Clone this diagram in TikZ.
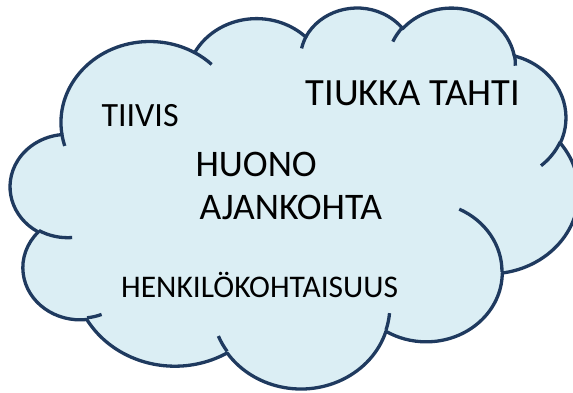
\documentclass[tikz,border=0pt]{standalone}
\usepackage{fontspec}
\setmainfont{Carlito}
\definecolor{cloudfill}{HTML}{DBEEF4}
\definecolor{cloudline}{HTML}{1F3A5F}
% horizontal / vertical scale of the cloud (pt per 1000 shape units)
\newcommand\csx{13.148}
\newcommand\csy{8.816}
\tikzset{
  % elliptical arc given by radii (thousands of units), start angle and sweep,
  % both as true (visual) angles measured with y pointing down
  cloud arc/.style n args={4}{
    start angle={-atan2(#1*sin(#3),#2*cos(#3))},
    delta angle={-mod(atan2(#1*sin(#3+#4),#2*cos(#3+#4))-atan2(#1*sin(#3),#2*cos(#3))+720,360)},
    x radius={#1*\csx*1pt}, y radius={#2*\csy*1pt}},
  outline/.style={draw=cloudline, line width=3.3pt, line join=round},
  word/.style={inner sep=0pt, anchor=base west, text=black}
}
\begin{document}
\begin{tikzpicture}[x=1pt, y=1pt]
\clip (0,0) rectangle (573,-392);
\begin{scope}[x=13.148pt, y=-8.816pt, shift={(10.5pt,-6.76pt)}]
  % cloud body
  \path[fill=cloudfill, outline] (3.900,14.370)
    arc[cloud arc={6.753}{9.190}{-190.48748}{123.78053}]
    arc[cloud arc={5.333}{7.267}{-144.10238}{89.94523}]
    arc[cloud arc={4.365}{5.945}{-145.80792}{99.72302}]
    arc[cloud arc={4.857}{6.595}{-130.98607}{117.24173}]
    arc[cloud arc={5.333}{7.273}{-78.70888}{109.02692}]
    arc[cloud arc={6.775}{9.220}{-46.26725}{130.26900}]
    arc[cloud arc={5.785}{7.867}{0.62502}{114.03333}]
    arc[cloud arc={6.752}{9.215}{22.45160}{115.17255}]
    arc[cloud arc={7.720}{10.543}{66.24263}{75.71102}]
    arc[cloud arc={4.360}{5.918}{-274.94208}{146.73557}]
    arc[cloud arc={4.345}{5.945}{-246.82850}{152.51885}]
    -- cycle;
  % inner ends of the puffs
  \path[outline]
    (4.693,26.177) arc[cloud arc={4.345}{5.945}{86.742}{26.4295}]
    (6.928,34.899) arc[cloud arc={4.360}{5.918}{73.61047}{11.44747}]
    (16.478,39.090) arc[cloud arc={6.752}{9.215}{137.62415}{14.0811}]
    (28.827,34.751) arc[cloud arc={6.752}{9.215}{6.45327}{15.99835}]
    (34.129,22.954) arc[cloud arc={5.785}{7.867}{-70.29235}{70.91737}]
    (41.798,15.354) arc[cloud arc={5.333}{7.273}{30.31803}{27.7515}]
    (38.324,5.426) arc[cloud arc={4.857}{6.595}{-13.74433}{14.85375}]
    (29.078,3.952) arc[cloud arc={4.857}{6.595}{-149.18145}{18.19537}]
    (22.141,4.720) arc[cloud arc={4.365}{5.945}{-163.49427}{17.68635}]
    (14.000,5.192) arc[cloud arc={6.753}{9.190}{-66.70695}{12.31935}]
    (4.127,15.789) arc[cloud arc={6.753}{9.190}{157.6544}{11.85817}];
\end{scope}
% words inside the cloud
\node[word, font=\fontsize{34}{40}\selectfont] (tiivis) at (101.3,-126) {TIIVIS};
\node[word, font=\fontsize{38.5}{46}\selectfont] (tahti) at (305.5,-105) {TIUKKA TAHTI};
\node[word, font=\fontsize{37.5}{44}\selectfont] (huono) at (195.3,-176.8) {HUONO};
\node[word, font=\fontsize{37.5}{44}\selectfont] (ajankohta) at (199.5,-219.3) {AJANKOHTA};
\node[word, font=\fontsize{31.5}{38}\selectfont] (henkilo) at (121,-297.7) {HENKILÖKOHTAISUUS};
\end{tikzpicture}
\end{document}
